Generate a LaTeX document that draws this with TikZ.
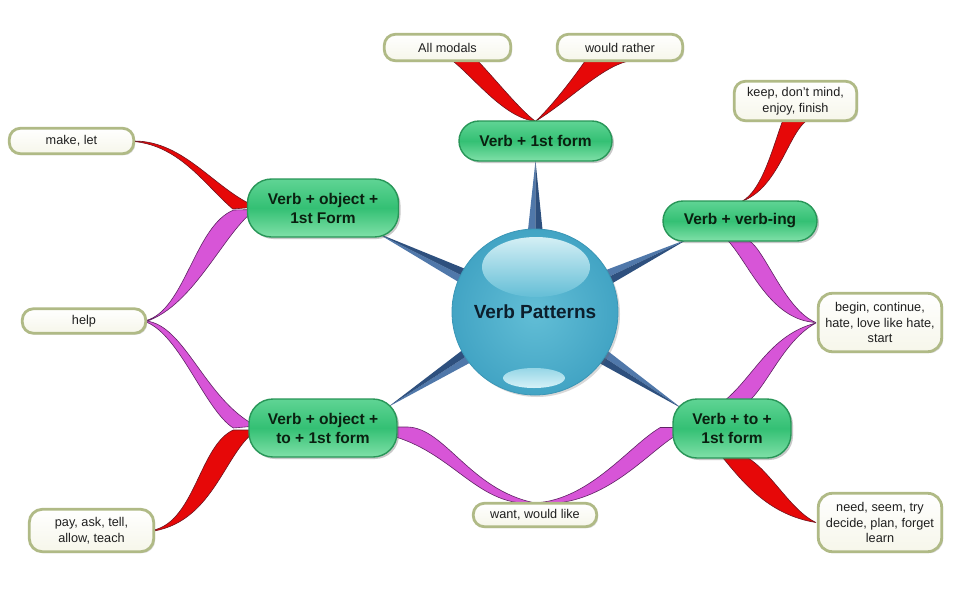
\documentclass[tikz,border=0pt]{standalone}
\usepackage{fontspec}
\setmainfont{Liberation Sans}
\usetikzlibrary{calc,shadows}
\pgfdeclarelayer{back}
\pgfsetlayers{back,main}
\definecolor{gtop}{RGB}{95,212,148}
\definecolor{gmid}{RGB}{52,192,116}
\definecolor{gbot}{RGB}{128,224,168}
\definecolor{gedge}{RGB}{40,150,88}
\definecolor{gtext}{RGB}{10,32,16}
\definecolor{ledge}{RGB}{176,186,134}
\definecolor{lbot}{RGB}{246,246,234}
\definecolor{ribred}{RGB}{230,8,8}
\definecolor{ribrededge}{RGB}{110,20,30}
\definecolor{ribmag}{RGB}{215,85,215}
\definecolor{ribmagedge}{RGB}{95,35,100}
\definecolor{spklight}{RGB}{80,120,170}
\definecolor{spkdark}{RGB}{46,80,126}
\definecolor{cin}{RGB}{98,190,214}
\definecolor{cout}{RGB}{66,164,196}
\definecolor{cedge}{RGB}{58,150,182}
\definecolor{ctext}{RGB}{12,30,44}
\definecolor{hitop}{RGB}{212,239,245}
\definecolor{hibot}{RGB}{100,190,214}
\definecolor{lotop}{RGB}{150,214,230}
\definecolor{lobot}{RGB}{214,242,248}
\newcommand\mkspike[1]{%
  \coordinate (sb) at ($(c.center)!80pt!(#1)$);
  \coordinate (sb1) at ($(sb)!7.5pt!90:(#1)$);
  \coordinate (sb2) at ($(sb)!7.5pt!-90:(#1)$);
  \fill[spklight] (#1) -- (sb1) -- (sb) -- cycle;
  \fill[spkdark] (#1) -- (sb) -- (sb2) -- cycle;
}
\begin{document}
\begin{tikzpicture}[x=1pt,y=-1pt,
  mainnode/.style={rectangle, rounded corners=20pt, draw=gedge, line width=1.4pt,
    top color=gtop, bottom color=gbot, middle color=gmid,
    font=\bfseries\fontsize{15.5}{19}\selectfont, text=gtext, align=center, inner sep=0pt,
    drop shadow={shadow xshift=2pt, shadow yshift=-2pt, opacity=0.3, fill=black!70}},
  leaf/.style={rectangle, rounded corners=11pt, draw=ledge, line width=2.8pt,
    top color=white, bottom color=lbot,
    font=\fontsize{12.7}{15.5}\selectfont, text=black!88, align=center, inner sep=0pt,
    drop shadow={shadow xshift=1.5pt, shadow yshift=-1.5pt, opacity=0.25, fill=black!60}},
  redrib/.style={fill=ribred, draw=ribrededge, line width=0.6pt, line join=round},
  magrib/.style={fill=ribmag, draw=ribmagedge, line width=0.6pt, line join=round}
]
\useasboundingbox (0,0) rectangle (953,595);

% main nodes
\node[mainnode, minimum width=153pt, minimum height=40pt] (m1) at (535.5,141) {Verb + 1st form};
\node[mainnode, rounded corners=24pt, minimum width=151pt, minimum height=58pt] (m2) at (323,208) {Verb + object +\\1st Form};
\node[mainnode, minimum width=154pt, minimum height=40pt] (m4) at (740,221) {Verb + verb-ing};
\node[mainnode, rounded corners=24pt, minimum width=148pt, minimum height=58pt] (m3) at (323,428) {Verb + object +\\to + 1st form};
\node[mainnode, rounded corners=24pt, minimum width=118pt, minimum height=59pt] (m5) at (732,428.5) {Verb + to +\\1st form};

% leaves
\node[leaf, minimum width=126.4pt, minimum height=26.4pt] (l1) at (447.5,47.5) {All modals};
\node[leaf, minimum width=125.4pt, minimum height=26.4pt] (l2) at (620,47.5) {would rather};
\node[leaf, minimum width=122.4pt, minimum height=39.4pt] (l3) at (795.5,101) {keep, don't mind,\\enjoy, finish};
\node[leaf, minimum width=124.4pt, minimum height=25.4pt] (l4) at (71.5,141) {make, let};
\node[leaf, minimum width=123.4pt, minimum height=24.4pt] (l5) at (84,321) {help};
\node[leaf, rounded corners=14pt, minimum width=123.4pt, minimum height=58.4pt] (l6) at (880,322.5) {begin, continue,\\hate, love like hate,\\start};
\node[leaf, rounded corners=13pt, minimum width=124.4pt, minimum height=42.4pt] (l7) at (91.5,530.5) {pay, ask, tell,\\allow, teach};
\node[leaf, minimum width=123.4pt, minimum height=23.4pt] (l8) at (535,515) {want, would like};
\node[leaf, rounded corners=14pt, minimum width=123.4pt, minimum height=58.4pt] (l9) at (880,522.5) {need, seem, try\\decide, plan, forget\\learn};

% central ball
\node[circle, minimum size=166pt, inner sep=0pt, inner color=cin, outer color=cout,
  draw=cedge, line width=0.8pt, font=\bfseries\fontsize{19}{22}\selectfont, text=ctext,
  drop shadow={shadow xshift=2pt, shadow yshift=-2pt, opacity=0.25, fill=black!60}] (c) at (535,312) {Verb Patterns};
\shade[top color=hitop, bottom color=hibot] (536,267) ellipse [x radius=54, y radius=30];
\shade[top color=lotop, bottom color=lobot] (534,378) ellipse [x radius=31, y radius=10];

% spike tips
\coordinate (t1) at ($(m1.south)+(0,-1)$);
\coordinate (t2) at ($(m2.center)+(54,25)$);
\coordinate (t4) at ($(m4.center)+(-52,18)$);
\coordinate (t3) at ($(m3.center)+(65,-21)$);
\coordinate (t5) at ($(m5.center)+(-50,-20)$);

\begin{pgfonlayer}{back}
\fill[white] (0,0) rectangle (953,595);
% spikes
\mkspike{t1}
\mkspike{t2}
\mkspike{t4}
\mkspike{t3}
\mkspike{t5}
% ribbons
\path[redrib] ($(l1.south)+(5.5,-1)$) .. controls (476,80) and (505,118) .. ($(m1.north)+(0,1)$)
   .. controls (520,110) and (496,80) .. ($(l1.south)+(30.5,-1)$) -- cycle;
\path[redrib] ($(m1.north)+(0,1)$) .. controls (550,108) and (572,80) .. ($(l2.south)+(-35,-1)$)
   -- ($(l2.south)+(8,-1)$) .. controls (600,68) and (570,100) .. ($(m1.north)+(0,1)$) -- cycle;
\path[redrib] ($(l4.east)+(-1,0)$) .. controls (185,141) and (215,190) .. ($(m2.west)+(10,-1)$)
   -- ($(m2.west)+(-14,1)$) .. controls (205,185) and (180,146) .. ($(l4.east)+(-1,0.5)$) -- cycle;
\path[magrib] ($(l5.east)+(-1,-0.5)$) .. controls (185,310) and (195,225) .. ($(m2.west)+(-13,2)$)
   -- ($(m2.west)+(9,1.5)$) .. controls (225,230) and (195,305) .. ($(l5.east)+(-1,0.5)$) -- cycle;
\path[magrib] ($(l5.east)+(-1,0)$) .. controls (185,325) and (205,400) .. ($(m3.west)+(8,-2)$)
   -- ($(m3.west)+(-15,0)$) .. controls (205,410) and (180,335) .. ($(l5.east)+(-1,1)$) -- cycle;
\path[redrib] ($(l7.east)+(-1,-0.5)$) .. controls (195,520) and (200,445) .. ($(m3.west)+(-15,2)$)
   -- ($(m3.west)+(9,2)$) .. controls (225,450) and (215,520) .. ($(l7.east)+(-1,0.5)$) -- cycle;
\path[redrib] ($(m4.north)+(2,1)$) .. controls (762,190) and (772,150) .. ($(l3.south)+(-13,-1)$)
   -- ($(l3.south)+(10.5,-1)$) .. controls (788,135) and (778,188) .. ($(m4.north)+(2,1)$) -- cycle;
\path[magrib] ($(m4.south)+(-12,-1)$) .. controls (750,265) and (770,320) .. ($(l6.west)+(-1,0)$)
   .. controls (785,310) and (765,250) .. ($(m4.south)+(9,-1)$) -- cycle;
\path[magrib] ($(m5.north)+(-7,2)$) .. controls (755,375) and (770,335) .. ($(l6.west)+(-1,0.5)$)
   .. controls (785,340) and (770,380) .. ($(m5.north)+(18,2)$) -- cycle;
\path[redrib] ($(m5.south)+(-10,-2)$) .. controls (745,485) and (770,515) .. ($(l9.west)+(-1,0)$)
   .. controls (790,510) and (770,470) .. ($(m5.south)+(14,-2)$) -- cycle;
\path[magrib] ($(m3.east)+(-10,-1)$) -- ($(m3.east)+(10,-1)$) .. controls (445,428) and (470,490) .. ($(l8.north)+(0,1)$)
   .. controls (480,508) and (455,455) .. ($(m3.east)+(-2,9)$) -- cycle;
\path[magrib] ($(l8.north)+(0,1)$) .. controls (590,500) and (630,445) .. ($(m5.west)+(-12,-1)$)
   -- ($(m5.west)+(8,-1)$) -- ($(m5.west)+(2,8)$) .. controls (645,455) and (600,510) .. ($(l8.north)+(0,1)$) -- cycle;
\end{pgfonlayer}
\end{tikzpicture}
\end{document}
